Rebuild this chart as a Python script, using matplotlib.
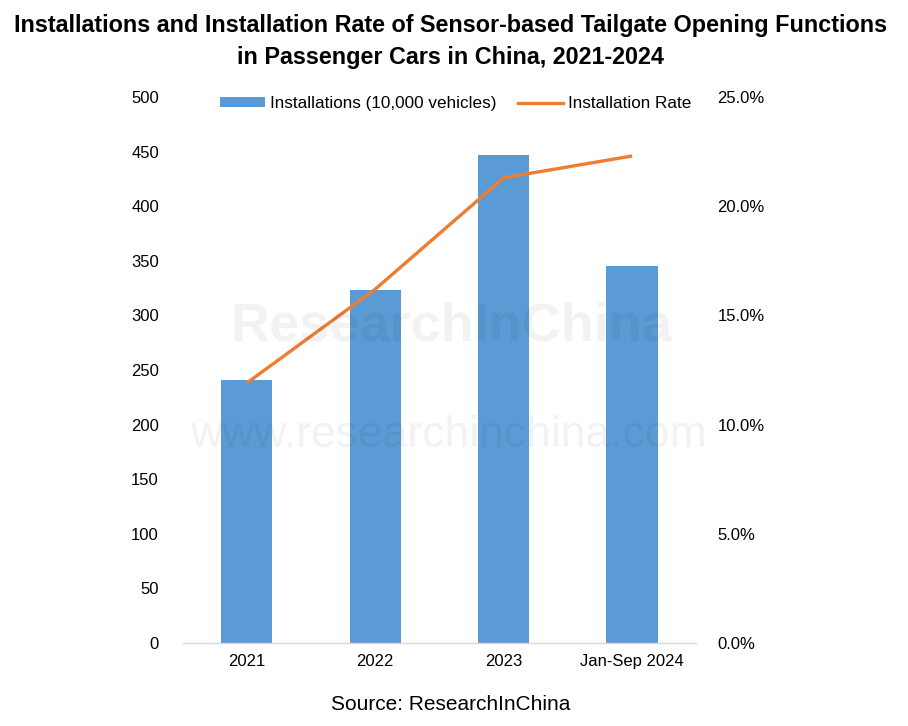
import matplotlib
matplotlib.use("Agg")
import matplotlib.pyplot as plt
from matplotlib import font_manager
from matplotlib.font_manager import FontProperties
from matplotlib.ticker import FuncFormatter, MultipleLocator
from matplotlib.patches import Patch
from matplotlib.lines import Line2D

categories = ["2021", "2022", "2023", "Jan-Sep 2024"]
installations = [241, 323, 447, 345]
install_rate = [11.9, 16.2, 21.3, 22.3]

title = "Installations and Installation Rate of Sensor-based Tailgate Opening Functions\nin Passenger Cars in China, 2021-2024"
source = "Source: ResearchInChina"
bar_label = "Installations (10,000 vehicles)"
line_label = "Installation Rate"

names = {f.name for f in font_manager.fontManager.ttflist}
base = "Liberation Sans" if "Liberation Sans" in names else "DejaVu Sans"
plt.rcParams["font.family"] = [base, "DejaVu Sans"]

wm_fp = FontProperties(family=base, weight="bold", size=39)

BAR = "#5B9BD5"
LINE = "#ED7D31"

fig = plt.figure(figsize=(9.08, 7.26), dpi=100)
ax = fig.add_axes([0.201, 0.1143, 0.566, 0.7521])
ax2 = ax.twinx()

x = list(range(len(categories)))
ax.bar(x, installations, width=0.4, color=BAR, zorder=2)
ax2.plot(x, install_rate, color=LINE, lw=2.4, solid_capstyle="butt", zorder=3)

ax.set_xlim(-0.5, 3.5)
ax.set_ylim(0, 500)
ax2.set_ylim(0, 25)
ax.yaxis.set_major_locator(MultipleLocator(50))
ax2.yaxis.set_major_locator(MultipleLocator(5))
ax2.yaxis.set_major_formatter(FuncFormatter(lambda v, p: f"{v:.1f}%"))
ax.set_xticks(x)
ax.set_xticklabels(categories)

for a in (ax, ax2):
    for s in a.spines.values():
        s.set_visible(False)
ax.spines["bottom"].set_visible(True)
ax.spines["bottom"].set_color("#D9D9D9")
ax.spines["bottom"].set_linewidth(1.0)
ax.tick_params(axis="both", length=0, labelsize=12, colors="#000000")
ax.tick_params(axis="y", pad=17)
ax.tick_params(axis="x", pad=8)
ax2.tick_params(axis="y", length=0, labelsize=12, pad=15)

# legend
handles = [Patch(facecolor=BAR, edgecolor="none"), Line2D([], [], color=LINE, lw=2.4)]
leg = fig.legend(handles, [bar_label, line_label], loc="center", ncol=2,
                 bbox_to_anchor=(0.502, 0.857), frameon=False, fontsize=12.3,
                 handlelength=2.6, handleheight=0.5, handletextpad=0.3,
                 columnspacing=1.3)

fig.text(0.496, 0.943, title, ha="center", va="center", fontsize=16.8,
         fontweight="bold", linespacing=1.5)
fig.text(0.496, 0.029, source, ha="center", va="center", fontsize=15)

# watermark
fig.text(0.497, 0.55, "ResearchInChina", ha="center", va="center",
         fontproperties=wm_fp, color="#000000", alpha=0.05, zorder=10)
fig.text(0.494, 0.40, "www.researchinchina.com", ha="center", va="center",
         fontsize=32, color="#000000", alpha=0.05, zorder=10)

fig.savefig("out.png", dpi=100)
